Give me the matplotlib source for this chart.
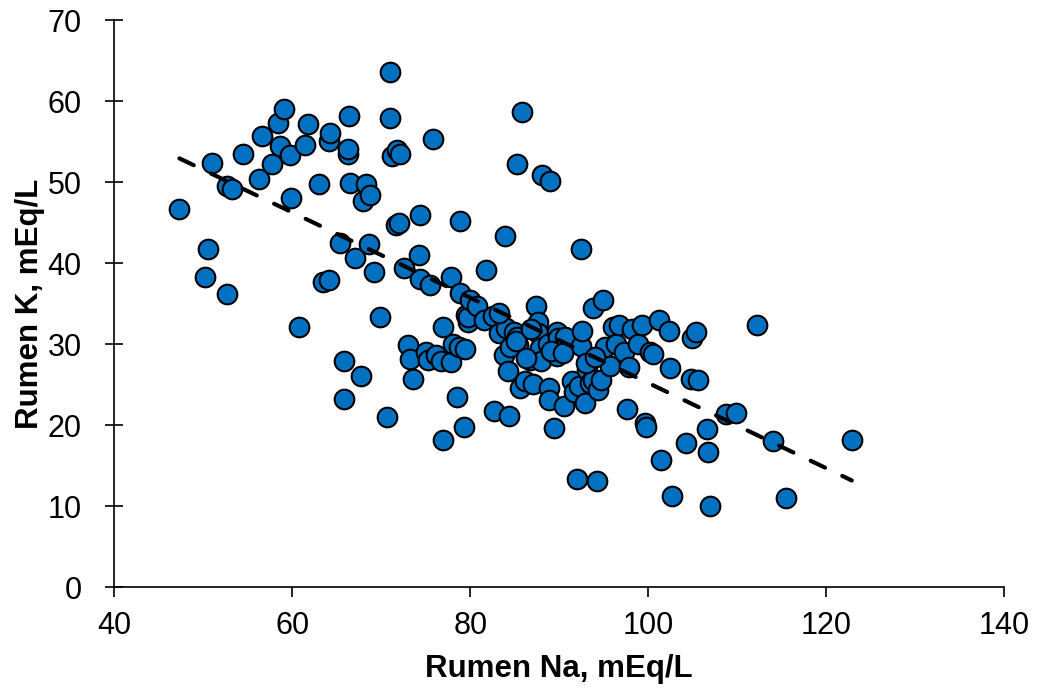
import numpy as np
import matplotlib
matplotlib.use("Agg")
import matplotlib.pyplot as plt

# ----------------- data -----------------
rumen_na = [
    47.3, 50.2, 50.5, 51.0, 52.7, 52.6, 53.2, 54.4, 56.2, 56.6,
    57.7, 58.4, 59.1, 58.6, 59.7, 59.8, 60.8, 61.4, 61.8, 63.0,
    63.4, 64.1, 64.1, 64.2, 65.4, 65.8, 65.8, 66.2, 66.4, 66.3,
    66.5, 67.0, 67.7, 67.9, 68.3, 68.7, 68.6, 69.2, 69.8, 70.6,
    71.0, 71.0, 71.2, 71.8, 72.1, 71.7, 72.0, 72.6, 73.0, 73.2,
    73.6, 74.2, 74.3, 74.4, 75.0, 75.2, 75.5, 75.8, 76.1, 76.7,
    76.9, 76.9, 77.8, 77.8, 78.1, 78.5, 78.7, 78.9, 78.9, 79.3,
    79.4, 79.5, 79.7, 79.8, 80.0, 80.8, 81.6, 81.8, 82.6, 82.7,
    83.2, 83.8, 83.9, 84.0, 84.2, 84.4, 84.9, 85.3, 85.4, 85.3,
    85.6, 85.8, 86.2, 86.7, 87.1, 87.4, 87.6, 87.6, 87.8, 88.0,
    88.1, 88.7, 88.9, 88.9, 89.0, 89.4, 89.7, 89.7, 89.9, 90.5,
    90.7, 91.4, 91.7, 92.0, 92.2, 92.4, 92.5, 92.6, 92.9, 93.1,
    93.5, 93.8, 93.8, 94.3, 94.4, 94.7, 94.9, 95.2, 95.7, 96.0,
    96.4, 96.7, 97.3, 97.6, 97.8, 98.2, 98.9, 99.3, 99.6, 99.8,
    100.2, 100.5, 101.2, 101.5, 102.3, 102.5, 102.7, 104.3, 104.8, 104.9,
    105.4, 105.6, 106.6, 106.7, 107.0, 108.8, 109.9, 112.3, 114.0, 115.5,
    122.9, 83.2, 84.5, 85.2, 86.3, 86.8, 89.1, 90.4, 93.0, 94.0,
]
rumen_k = [
    46.7, 38.3, 41.7, 52.3, 36.2, 49.5, 49.1, 53.5, 50.4, 55.7,
    52.2, 57.3, 59.0, 54.4, 53.3, 48.0, 32.1, 54.6, 57.2, 49.8,
    37.7, 37.9, 55.1, 56.1, 42.5, 27.9, 23.2, 53.5, 58.1, 54.1,
    49.9, 40.6, 26.0, 47.7, 49.8, 48.4, 42.3, 38.9, 33.3, 21.0,
    63.6, 57.9, 53.2, 53.9, 53.5, 44.7, 44.9, 39.4, 29.9, 28.1,
    25.7, 41.0, 38.0, 45.9, 29.0, 28.0, 37.3, 55.3, 28.6, 27.9,
    32.1, 18.1, 38.3, 27.8, 30.0, 23.5, 29.6, 45.2, 36.3, 19.8,
    29.4, 33.6, 32.7, 33.3, 35.4, 34.7, 33.0, 39.1, 33.5, 21.7,
    31.4, 28.6, 43.3, 32.0, 26.7, 21.1, 31.5, 52.2, 29.9, 30.9,
    24.6, 58.6, 25.4, 28.0, 25.1, 34.7, 32.7, 31.4, 29.5, 27.9,
    50.9, 30.0, 24.6, 23.1, 50.1, 19.6, 28.5, 31.5, 30.7, 22.3,
    30.9, 25.4, 24.1, 13.3, 24.8, 41.7, 29.8, 31.6, 22.7, 26.8,
    25.2, 34.4, 25.6, 13.1, 24.3, 25.6, 35.4, 29.6, 27.3, 32.1,
    30.0, 32.3, 29.0, 22.0, 27.2, 31.9, 30.0, 32.3, 20.2, 19.8,
    29.0, 28.8, 33.0, 15.7, 31.6, 27.0, 11.2, 17.8, 25.7, 30.7,
    31.5, 25.6, 19.5, 16.7, 10.0, 21.4, 21.5, 32.3, 18.0, 11.0,
    18.1, 33.8, 29.6, 30.4, 28.3, 31.9, 29.1, 28.9, 27.7, 28.4,
]

# linear trendline: K = intercept + slope * Na
TREND_SLOPE = -0.526
TREND_INTERCEPT = 77.8

x_ticks = [40, 60, 80, 100, 120, 140]
y_ticks = [0, 10, 20, 30, 40, 50, 60, 70]

# ----------------- plotting -----------------
plt.rcParams["font.family"] = ["Liberation Sans", "DejaVu Sans"]

fig = plt.figure(figsize=(10.38, 6.91), dpi=100)
ax = fig.add_axes([0.1103, 0.1505, 0.8568, 0.8205])

ax.scatter(rumen_na, rumen_k, s=200, color="#0070C0", edgecolor="black",
           linewidths=1.5, zorder=3)

xs = np.array([min(rumen_na), max(rumen_na)])
ax.plot(xs, TREND_INTERCEPT + TREND_SLOPE * xs, color="black", lw=3,
        linestyle=(0, (3.8, 4.6)), dash_capstyle="round", zorder=4)

ax.set_xlim(40, 140)
ax.set_ylim(0, 70)
ax.set_xticks(x_ticks)
ax.set_yticks(y_ticks)
ax.tick_params(axis="both", width=1.2, labelsize=22, color="black")
ax.tick_params(axis="x", direction="out", length=7.5, pad=10)
ax.tick_params(axis="y", direction="inout", length=13.5, pad=17)

for side in ("top", "right"):
    ax.spines[side].set_visible(False)
for side in ("left", "bottom"):
    ax.spines[side].set_linewidth(1.2)
    ax.spines[side].set_color("black")

ax.set_xlabel("Rumen Na, mEq/L", fontsize=22.5, fontweight="bold", labelpad=9)
ax.set_ylabel("Rumen K, mEq/L", fontsize=22.5, fontweight="bold", labelpad=2)

fig.savefig("out.png", dpi=100)
